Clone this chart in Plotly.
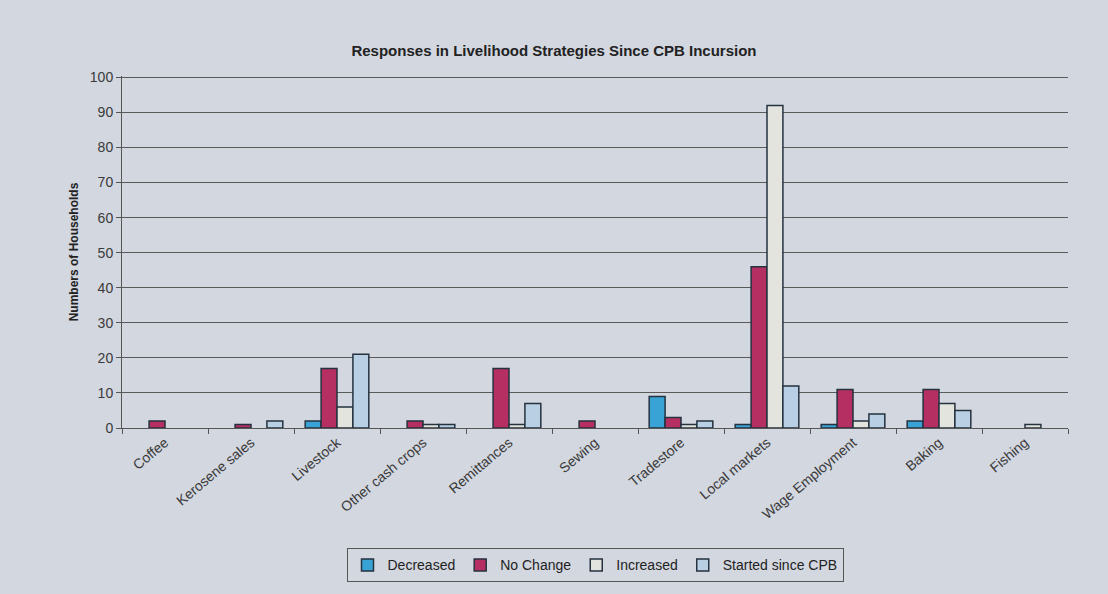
import plotly.graph_objects as go

categories = ["Coffee", "Kerosene sales", "Livestock", "Other cash crops", "Remittances",
              "Sewing", "Tradestore", "Local markets", "Wage Employment", "Baking", "Fishing"]
decreased = [0, 0, 2, 0, 0, 0, 9, 1, 1, 2, 0]
no_change = [2, 1, 17, 2, 17, 2, 3, 46, 11, 11, 0]
increased = [0, 0, 6, 1, 1, 0, 1, 92, 2, 7, 1]
started = [0, 2, 21, 1, 7, 0, 2, 12, 4, 5, 0]

series_names = ["Decreased", "No Change", "Increased", "Started since CPB"]
series_values = [decreased, no_change, increased, started]
series_colors = ["#3aa3d6", "#b52f62", "#e4e4de", "#b9cfe3"]

bg = "#d3d7e0"
fig = go.Figure()
for name, vals, col in zip(series_names, series_values, series_colors):
    fig.add_trace(go.Bar(
        name=name, x=categories, y=[v if v else None for v in vals],
        marker=dict(color=col, line=dict(color="#25323f", width=1.5)),
    ))

fig.update_layout(
    width=1108, height=594,
    paper_bgcolor=bg, plot_bgcolor=bg,
    barmode="group", bargap=0.26, bargroupgap=0,
    margin=dict(l=122, r=40, t=76, b=162),
    font=dict(family="Liberation Sans, Arial, sans-serif", color="#3a3a3a", size=14),
    title=dict(text="<b>Responses in Livelihood Strategies Since CPB Incursion</b>",
               x=0.5, xanchor="center", y=0.915, yanchor="middle",
               font=dict(size=15, color="#222")),
    legend=dict(orientation="h", x=0.5, xanchor="center", y=-0.39, yanchor="middle",
                bordercolor="#555", borderwidth=1, bgcolor=bg,
                font=dict(size=14, color="#222"), itemwidth=30,
                tracegroupgap=0),
)
fig.update_yaxes(range=[0, 100.4], tickvals=list(range(0, 101, 10)), showgrid=True,
                 gridcolor="#5a5a5a", gridwidth=1,
                 showline=True, linecolor="#555", ticks="outside", ticklen=5, tickcolor="#555",
                 zeroline=False,
                 title=dict(text="<b>Numbers of Households</b>", font=dict(size=12, color="#222"),
                            standoff=8),
                 tickfont=dict(size=14, color="#3a3a3a"))
fig.update_xaxes(showline=True, linecolor="#555", ticks="outside", tickson="boundaries",
                 ticklen=5, tickcolor="#555", tickangle=-40,
                 tickfont=dict(size=14, color="#3a3a3a"))

fig.write_html("out.html")
